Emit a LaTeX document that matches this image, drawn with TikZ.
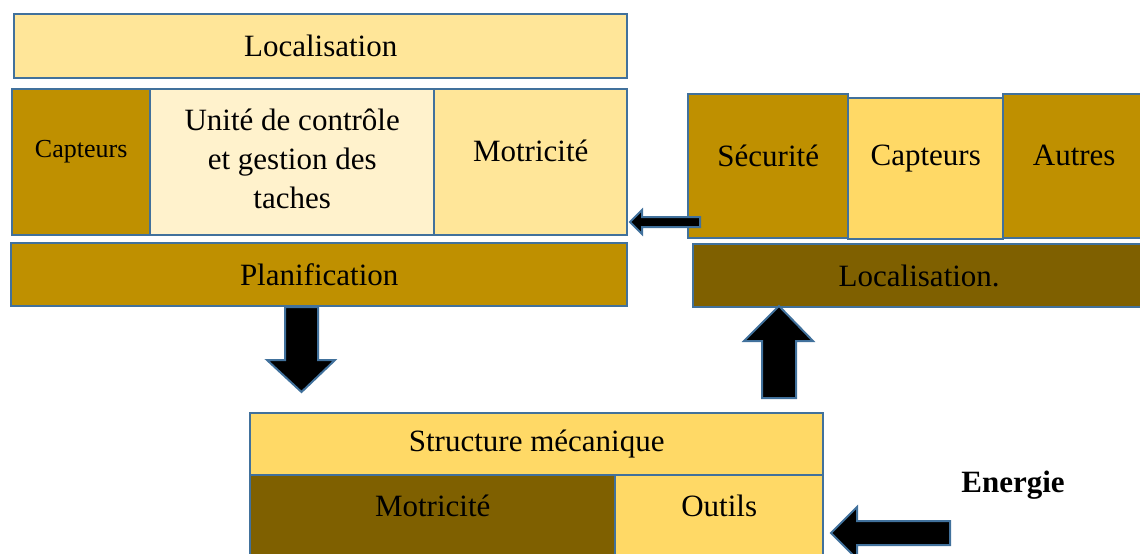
\documentclass[tikz,border=0pt]{standalone}
\usepackage{fontspec}
\setmainfont{Liberation Serif}
\definecolor{bord}{HTML}{41719C}
\definecolor{gold}{HTML}{BF9000}
\definecolor{pale}{HTML}{FFE699}
\definecolor{cream}{HTML}{FFF2CC}
\definecolor{sun}{HTML}{FFD966}
\definecolor{brownish}{HTML}{7F6000}
\tikzset{
  blk/.style={draw=bord, line width=1.2pt, anchor=north west, inner sep=0pt,
              font=\fontsize{15.5}{19.5}\selectfont, align=center},
  txt/.style={font=\fontsize{15.5}{19.5}\selectfont, align=center, inner sep=0pt},
  barrow/.style={fill=black, draw=bord, line width=1pt, line join=miter},
}
\begin{document}
\begin{tikzpicture}[x=0.5pt,y=-0.5pt]
\useasboundingbox (0,0) rectangle (1140,553);
\clip (0,0) rectangle (1140,553);

% left group
\node[blk, fill=pale, minimum width=306.5pt, minimum height=32pt] (loc1) at (13,13) {Localisation};
\node[blk, fill=gold, minimum width=69pt, minimum height=73pt] (capL) at (11,88) {};
\node[blk, fill=cream, minimum width=142pt, minimum height=73pt] (unit) at (149,88) {};
\node[blk, fill=pale, minimum width=96.5pt, minimum height=73pt] (motT) at (433,88) {};
\node[blk, fill=gold, minimum width=308pt, minimum height=31.5pt] (plan) at (10,242) {Planification};

\node[txt, font=\fontsize{13}{16}\selectfont] (tcapL) at ([yshift=5.5pt]capL.center) {Capteurs};
\node[txt] (tunit) at ([yshift=1.5pt]unit.center) {Unité de contrôle\\et gestion des\\taches};
\node[txt] (tmotT) at ([yshift=5.5pt]motT.center) {Motricité};

% right group
\node[blk, fill=gold, minimum width=80pt, minimum height=72pt] (secu) at (687,93) {};
\node[blk, fill=sun, minimum width=77.5pt, minimum height=70.5pt] (capR) at (847,97) {};
\node[blk, fill=gold, minimum width=71pt, minimum height=72pt] (autr) at (1002,93) {};
\node[blk, fill=brownish, minimum width=226pt, minimum height=31.5pt] (loc2) at (692,243) {Localisation.};

\node[txt] (tsecu) at ([yshift=5pt]secu.center) {Sécurité};
\node[txt] (tcapR) at ([yshift=5pt]capR.center) {Capteurs};
\node[txt] (tautr) at ([yshift=5.5pt]autr.center) {Autres};

% bottom group
\node[blk, fill=sun, minimum width=286.5pt, minimum height=31pt] (stru) at (249,412) {Structure mécanique};
\node[blk, fill=brownish, minimum width=182.5pt, minimum height=45pt] (motB) at (249,474) {};
\node[blk, fill=sun, minimum width=104pt, minimum height=45pt] (outi) at (614,474) {};
\node[txt] (tmotB) at ([yshift=7pt]motB.center) {Motricité};
\node[txt] (touti) at ([yshift=7pt]outi.center) {Outils};

\node[txt, font=\bfseries\fontsize{15.5}{19.5}\selectfont] (ener) at (1013,485) {Energie};

% block arrows
\draw[barrow] (285,307) -- (318,307) -- (318,360) -- (335,360) -- (301.5,392)
  -- (267,360) -- (285,360) -- cycle;
\draw[barrow] (779,306) -- (813,341) -- (796,341) -- (796,398) -- (762,398)
  -- (762,341) -- (744,341) -- cycle;
\draw[barrow] (630,222) -- (642,210) -- (642,217) -- (700,217) -- (700,227)
  -- (642,227) -- (642,234) -- cycle;
\draw[barrow] (831,533) -- (857,507) -- (857,521) -- (950,521) -- (950,545)
  -- (857,545) -- (857,559) -- cycle;
\end{tikzpicture}
\end{document}
